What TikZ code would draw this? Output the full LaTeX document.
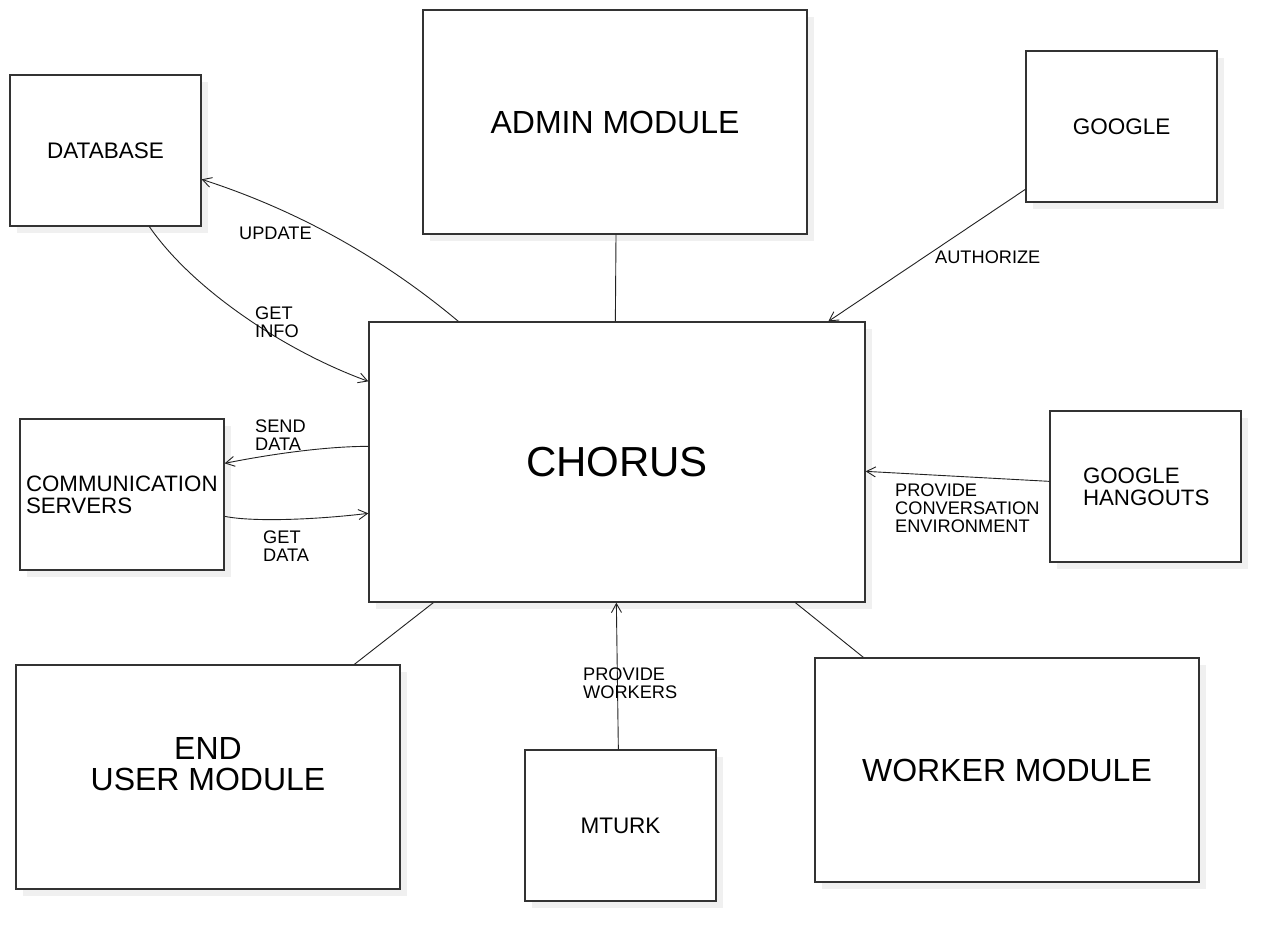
\documentclass[tikz,border=0pt]{standalone}
\usepackage{fontspec}
\setmainfont{Liberation Sans}
\usetikzlibrary{arrows.meta,shadows,calc}
\definecolor{boxline}{HTML}{333333}
\definecolor{shadowgray}{HTML}{F0F0F0}
\definecolor{wireline}{HTML}{222222}
\newcommand{\dn}[1]{\raisebox{-2pt}{#1}}
\tikzset{
  box/.style={draw=boxline, line width=1.3pt, fill=white, rectangle, inner sep=0pt,
    drop shadow={shadow xshift=7pt, shadow yshift=-7pt, fill=shadowgray, opacity=1}},
  smallbox/.style={box, font=\fontsize{22.5}{22.5}\selectfont, align=center},
  bigbox/.style={box, font=\fontsize{32}{32}\selectfont, align=center},
  lbl/.style={font=\fontsize{18.2}{18}\selectfont, align=left, anchor=west, inner sep=0pt},
  wire/.style={draw=wireline, line width=0.9pt},
  arr/.style={wire, -{Straight Barb[length=9pt,width=10pt,line width=0.9pt]}}
}
\begin{document}
\begin{tikzpicture}[x=1pt,y=-1pt]
\useasboundingbox[fill=white] (0,0) rectangle (1281,941);
% boxes
\node[smallbox, minimum width=191pt, minimum height=151pt] (db) at (105.5,150.5) {\dn{DATABASE}};
\node[bigbox, minimum width=384pt, minimum height=224pt] (admin) at (615,122) {\dn{ADMIN MODULE}};
\node[smallbox, minimum width=191pt, minimum height=151pt] (google) at (1121.5,126.5) {\dn{GOOGLE}};
\node[box, minimum width=496pt, minimum height=280pt, font=\fontsize{42}{42}\selectfont] (chorus) at (617,462) {\dn{CHORUS}};
\node[box, minimum width=204pt, minimum height=151pt, text width=192pt, align=left, font=\fontsize{22.3}{22}\selectfont] (comm) at (122,494.5) {COMMUNICATION\\SERVERS};
\node[box, minimum width=191pt, minimum height=151pt, text width=125pt, align=left, font=\fontsize{22.3}{22}\selectfont] (hang) at (1145.5,486.5) {GOOGLE\\HANGOUTS};
\node[bigbox, minimum width=384pt, minimum height=224pt] (enduser) at (208,777) {};
\node[font=\fontsize{32}{31}\selectfont, align=center, inner sep=0pt] (endtxt) at (208,764) {END\\USER MODULE};
\node[smallbox, minimum width=191pt, minimum height=151pt] (mturk) at (620.5,825.5) {\dn{MTURK}};
\node[bigbox, minimum width=384pt, minimum height=224pt] (worker) at (1007,770) {\dn{WORKER MODULE}};
% connectors
\draw[arr] ($(chorus.north west)+(90,0)$) .. controls +(-80,-67) and +(90,29) .. ($(db.north east)+(0,105)$);
\draw[arr] ($(db.south west)+(140,0)$) .. controls +(45,65) and +(-80,-29) .. ($(chorus.north west)+(0,60)$);
\draw[arr] ($(chorus.north west)+(0,125)$) .. controls +(-40,0) and +(50,-10) .. ($(comm.north east)+(0,45)$);
\draw[arr] ($(comm.north east)+(0,98)$) .. controls +(30,6) and +(-50,6) .. ($(chorus.north west)+(0,192)$);
\draw[arr] ($(google.north west)+(0,139)$) -- ($(chorus.north west)+(460,0)$);
\draw[arr] ($(hang.north west)+(0,71)$) -- ($(chorus.north east)+(0,150)$);
\draw[arr] ($(mturk.north west)+(94,0)$) -- ($(chorus.south west)+(248,0)$);
\draw[wire] ($(admin.south)+(1,0)$) -- ($(chorus.north west)+(247,0)$);
\draw[wire] ($(enduser.north west)+(339,0)$) -- ($(chorus.south west)+(65,0)$);
\draw[wire] ($(worker.north west)+(49,0)$) -- ($(chorus.south west)+(427,0)$);
% labels
\node[lbl] (lupdate) at (239,233.5) {UPDATE};
\node[lbl] (lgetinfo) at (255,322.5) {GET\\INFO};
\node[lbl] (lsend) at (255,435) {SEND\\DATA};
\node[lbl] (lgetdata) at (263,546.5) {GET\\DATA};
\node[lbl] (lauth) at (935,257.5) {AUTHORIZE};
\node[lbl] (lconv) at (895,508) {PROVIDE\\CONVERSATION\\ENVIRONMENT};
\node[lbl] (lworkers) at (583,683) {PROVIDE\\WORKERS};
\end{tikzpicture}
\end{document}
